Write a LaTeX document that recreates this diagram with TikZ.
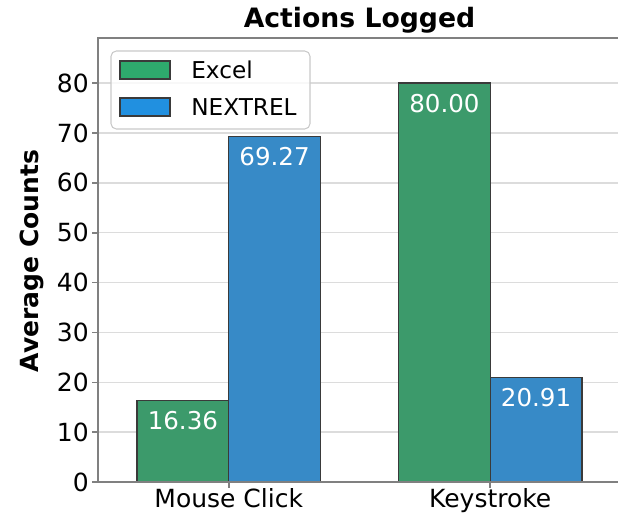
\documentclass[tikz,border=0pt]{standalone}
\usepackage{fontspec}
\setmainfont{DejaVu Sans}
\definecolor{excelbar}{HTML}{3C9A6B}
\definecolor{nextrelbar}{HTML}{378AC7}
\definecolor{excelpatch}{HTML}{2EAA6D}
\definecolor{nextrelpatch}{HTML}{2190E0}
\definecolor{gridgray}{HTML}{DCDCDC}
\definecolor{spinegray}{HTML}{808080}
\definecolor{edgegray}{HTML}{3A3A3A}

\begin{document}
\begin{tikzpicture}[x=0.75pt,y=0.75pt,
  gridline/.style={draw=gridgray, line width=1.1pt},
  spine/.style={draw=spinegray, line width=1.2pt},
  barbox/.style={draw=edgegray, line width=1.1pt},
  ticklabel/.style={inner sep=0pt, font=\fontsize{18.75}{22}\selectfont},
  barlabel/.style={inner sep=0pt, text=white, font=\fontsize{18.4}{22}\selectfont},
  legendtext/.style={inner sep=0pt, anchor=west, font=\fontsize{17.4}{21}\selectfont}]
\useasboundingbox (0,0) rectangle (618,515);

% data area: x in px, y in counts
\begin{scope}[yshift=24.75pt, y=3.73875pt]
\foreach \v in {10,20,...,80}
  \draw[gridline] (98,\v) -- (621,\v);

\fill[excelbar] (137,0) rectangle (228.75,16.36);
\draw[barbox] (137,0) rectangle (228.75,16.36);
\fill[nextrelbar] (228.75,0) rectangle (320.5,69.27);
\draw[barbox] (228.75,0) rectangle (320.5,69.27);
\fill[excelbar] (398.75,0) rectangle (490.25,80);
\draw[barbox] (398.75,0) rectangle (490.25,80);
\fill[nextrelbar] (490.25,0) rectangle (582,20.91);
\draw[barbox] (490.25,0) rectangle (582,20.91);

\node[barlabel] (v1) at (182.9,16.36) [yshift=-15pt] {16.36};
\node[barlabel] (v2) at (274.6,69.27) [yshift=-15pt] {69.27};
\node[barlabel] (v3) at (444.5,80) [yshift=-15pt] {80.00};
\node[barlabel] (v4) at (536.1,20.91) [yshift=-15pt] {20.91};

% axes
\draw[spine] (98,0) -- (98,89.07) -- (621,89.07);
\draw[spine] (98,0) -- (621,0);
\foreach \v in {0,10,...,80} {
  \draw[spine] (92,\v) -- (98,\v);
  \node[ticklabel, anchor=east] (y\v) at (89,\v) {\v};
}
\draw[spine] (228.75,0) -- (228.75,-1.2);
\draw[spine] (490.25,0) -- (490.25,-1.2);
\end{scope}

\node[ticklabel, anchor=north] (xa) at (228.75,27) {Mouse Click};
\node[ticklabel, anchor=north] (xb) at (490.25,27) {Keystroke};

\node[font=\fontsize{20}{24}\selectfont\bfseries] (title) at (359.5,495) {Actions Logged};
\node[rotate=90, font=\fontsize{18.75}{22}\selectfont\bfseries] (ylab) at (32,254) {Average Counts};

% legend
\draw[draw=gridgray!80!gray, fill=white, fill opacity=0.8, rounded corners=4pt, line width=0.8pt]
  (111,386) rectangle (310,464);
\draw[barbox, fill=excelpatch] (120,436) rectangle (170,454);
\draw[barbox, fill=nextrelpatch] (120,399) rectangle (170,417);
\node[legendtext] (lexcel) at (191,445) {Excel};
\node[legendtext] (lnext) at (191,408) {NEXTREL};
\end{tikzpicture}
\end{document}
